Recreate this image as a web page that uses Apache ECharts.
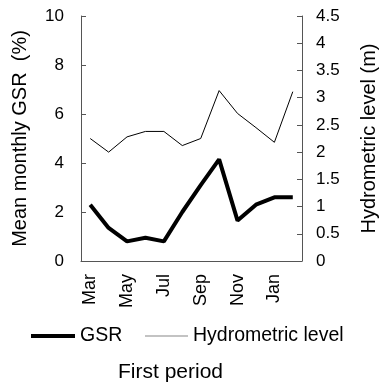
<!DOCTYPE html>
<html><head><meta charset="utf-8">
<script src="https://cdn.jsdelivr.net/npm/echarts@6/dist/echarts.min.js"></script>
<style>html,body{margin:0;padding:0;background:#fff}#c{width:380px;height:388px}</style>
</head><body><div id="c"></div>
<script>
const months = ['Mar','Apr','May','Jun','Jul','Aug','Sep','Oct','Nov','Dec','Jan','Feb'];
const gsr = [2.3, 1.35, 0.8, 0.95, 0.8, 2.0, 3.1, 4.15, 1.65, 2.3, 2.6, 2.6];
const hydro = [2.25, 2.0, 2.28, 2.38, 2.38, 2.12, 2.25, 3.13, 2.71, 2.45, 2.18, 3.11];
const leftTicks = {min: 0, max: 10, interval: 2};
const rightTicks = {min: 0, max: 4.5, interval: 0.5};
const font = 'Liberation Sans, Arial, sans-serif';
const axisCol = '#555';
const chart = echarts.init(document.getElementById('c'), null, {renderer: 'canvas'});
chart.setOption({
  animation: false,
  backgroundColor: '#fff',
  grid: {left: 81, right: 78, top: 16, bottom: 127, containLabel: false, outerBoundsMode: 'none'},
  graphic: [{
    type: 'text', left: 118, top: 362,
    style: {text: 'First period', font: '21px ' + font, fill: '#000'}
  }],
  legend: [{
    left: 31, top: 326, padding: 0, itemWidth: 44, itemHeight: 4, icon: 'rect',
    textStyle: {fontFamily: font, fontSize: 19.5, color: '#000'},
    itemStyle: {color: '#000'},
    data: [{name: 'GSR'}]
  }, {
    left: 145, top: 326, padding: 0, itemWidth: 43, itemHeight: 1, icon: 'rect',
    textStyle: {fontFamily: font, fontSize: 19.5, color: '#000'},
    itemStyle: {color: '#888'},
    data: [{name: 'Hydrometric level'}]
  }],
  xAxis: {
    type: 'category', data: months, boundaryGap: true,
    axisLine: {lineStyle: {color: axisCol, width: 1}},
    axisTick: {inside: true, length: 5, lineStyle: {color: axisCol}},
    axisLabel: {rotate: 90, interval: 1, margin: 13, fontFamily: font, fontSize: 18, color: '#000'},
    splitLine: {show: false}
  },
  yAxis: [{
    type: 'value', min: leftTicks.min, max: leftTicks.max, interval: leftTicks.interval,
    name: 'Mean monthly GSR  (%)', nameLocation: 'middle', nameGap: 51,
    nameTextStyle: {fontFamily: font, fontSize: 20, color: '#000'},
    axisLine: {show: true, lineStyle: {color: axisCol}},
    axisTick: {show: true, inside: true, length: 5, lineStyle: {color: axisCol}},
    axisLabel: {fontFamily: font, fontSize: 17, color: '#000', margin: 17},
    splitLine: {show: false}
  }, {
    type: 'value', min: rightTicks.min, max: rightTicks.max, interval: rightTicks.interval,
    name: 'Hydrometric level (m)', nameLocation: 'middle', nameGap: 57,
    nameTextStyle: {fontFamily: font, fontSize: 20, color: '#000'},
    axisLine: {show: true, lineStyle: {color: axisCol}},
    axisTick: {show: true, inside: true, length: 5, lineStyle: {color: axisCol}},
    axisLabel: {fontFamily: font, fontSize: 17, color: '#000', margin: 14},
    splitLine: {show: false}
  }],
  series: [{
    name: 'GSR', type: 'line', yAxisIndex: 0, data: gsr,
    symbol: 'none', lineStyle: {color: '#000', width: 4}, itemStyle: {color: '#000'}
  }, {
    name: 'Hydrometric level', type: 'line', yAxisIndex: 1, data: hydro,
    symbol: 'none', lineStyle: {color: '#000', width: 1}, itemStyle: {color: '#000'}
  }]
});
</script></body></html>
